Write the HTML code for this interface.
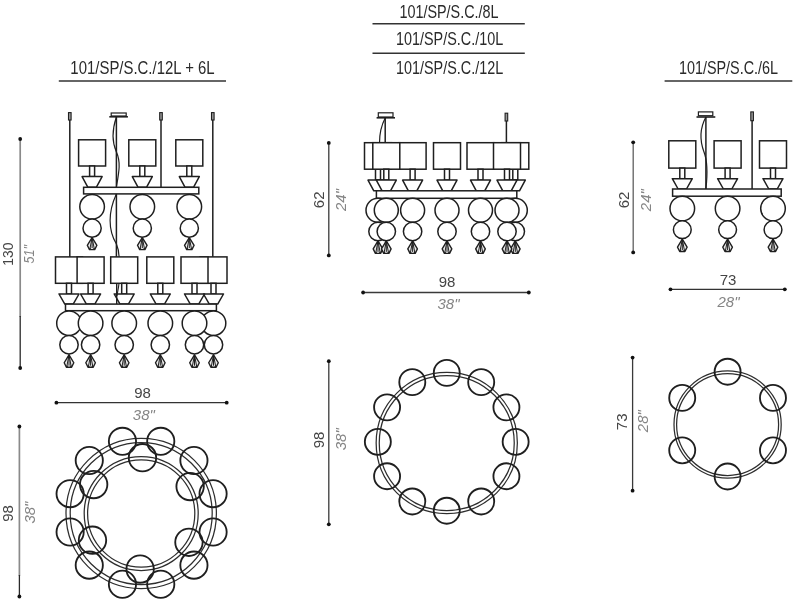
<!DOCTYPE html>
<html><head><meta charset="utf-8"><style>
html,body{margin:0;padding:0;background:#fff;width:795px;height:603px;overflow:hidden}
svg{display:block}
text{font-family:"Liberation Sans",sans-serif}
svg text{filter:grayscale(1)}
</style></head><body>
<svg width="795" height="603" viewBox="0 0 795 603">
<rect width="795" height="603" fill="#fff"/>
<rect x="68.50" y="112.60" width="2.60" height="7.40" fill="#9a9a9a" stroke="#1f1f1f" stroke-width="1.1"/>
<line x1="69.80" y1="120.00" x2="69.80" y2="257.00" stroke="#1f1f1f" stroke-width="1.5"/>
<rect x="159.70" y="112.60" width="2.60" height="7.40" fill="#9a9a9a" stroke="#1f1f1f" stroke-width="1.1"/>
<line x1="161.00" y1="120.00" x2="161.00" y2="187.50" stroke="#1f1f1f" stroke-width="1.5"/>
<rect x="211.50" y="112.60" width="2.60" height="7.40" fill="#9a9a9a" stroke="#1f1f1f" stroke-width="1.1"/>
<line x1="212.80" y1="120.00" x2="212.80" y2="257.00" stroke="#1f1f1f" stroke-width="1.5"/>
<rect x="111.20" y="113.00" width="15.00" height="3.00" fill="#fff" stroke="#1f1f1f" stroke-width="1.2"/>
<line x1="109.30" y1="116.80" x2="127.90" y2="116.80" stroke="#1f1f1f" stroke-width="1.6"/>
<line x1="116.40" y1="117.00" x2="116.40" y2="257.00" stroke="#1f1f1f" stroke-width="1.5"/>
<path d="M116.4,117 C112,130 112,142 116.4,152 C121,162 119,172 116.4,187" fill="none" stroke="#1f1f1f" stroke-width="1.2"/>
<path d="M116.4,194 C108,212 108,230 116.4,244 C118.5,249 119,253 119,257" fill="none" stroke="#1f1f1f" stroke-width="1.2"/>
<rect x="78.60" y="139.80" width="27.00" height="26.20" fill="#fff" stroke="#1f1f1f" stroke-width="1.5"/>
<rect x="89.60" y="166.00" width="5.00" height="10.60" fill="#fff" stroke="#1f1f1f" stroke-width="1.5"/>
<polygon points="82.10,176.60 102.10,176.60 96.30,187.30 87.90,187.30" fill="#fff" stroke="#1f1f1f" stroke-width="1.5" stroke-linejoin="round"/>
<rect x="128.80" y="139.80" width="27.00" height="26.20" fill="#fff" stroke="#1f1f1f" stroke-width="1.5"/>
<rect x="139.80" y="166.00" width="5.00" height="10.60" fill="#fff" stroke="#1f1f1f" stroke-width="1.5"/>
<polygon points="132.30,176.60 152.30,176.60 146.50,187.30 138.10,187.30" fill="#fff" stroke="#1f1f1f" stroke-width="1.5" stroke-linejoin="round"/>
<rect x="175.80" y="139.80" width="27.00" height="26.20" fill="#fff" stroke="#1f1f1f" stroke-width="1.5"/>
<rect x="186.80" y="166.00" width="5.00" height="10.60" fill="#fff" stroke="#1f1f1f" stroke-width="1.5"/>
<polygon points="179.30,176.60 199.30,176.60 193.50,187.30 185.10,187.30" fill="#fff" stroke="#1f1f1f" stroke-width="1.5" stroke-linejoin="round"/>
<rect x="83.60" y="187.30" width="115.20" height="6.60" fill="#fff" stroke="#1f1f1f" stroke-width="1.5"/>
<circle cx="92.10" cy="206.80" r="12.30" fill="#fff" stroke="#1f1f1f" stroke-width="1.5"/>
<circle cx="92.10" cy="228.20" r="9.10" fill="#fff" stroke="#1f1f1f" stroke-width="1.5"/>
<polygon points="92.10,237.60 96.90,245.28 94.70,249.60 89.50,249.60 87.30,245.28" fill="#ececec" stroke="#1f1f1f" stroke-width="1.4" stroke-linejoin="round"/>
<path d="M92.10,237.60 L89.90,249.00 M92.10,237.60 L94.30,249.00 M92.10,237.60 L92.10,248.10" fill="none" stroke="#1f1f1f" stroke-width="1.0"/>
<circle cx="90.10" cy="248.80" r="0.90" fill="#222" stroke="none" stroke-width="0"/>
<circle cx="94.10" cy="248.80" r="0.90" fill="#222" stroke="none" stroke-width="0"/>
<circle cx="142.30" cy="206.80" r="12.30" fill="#fff" stroke="#1f1f1f" stroke-width="1.5"/>
<circle cx="142.30" cy="228.20" r="9.10" fill="#fff" stroke="#1f1f1f" stroke-width="1.5"/>
<polygon points="142.30,237.60 147.10,245.28 144.90,249.60 139.70,249.60 137.50,245.28" fill="#ececec" stroke="#1f1f1f" stroke-width="1.4" stroke-linejoin="round"/>
<path d="M142.30,237.60 L140.10,249.00 M142.30,237.60 L144.50,249.00 M142.30,237.60 L142.30,248.10" fill="none" stroke="#1f1f1f" stroke-width="1.0"/>
<circle cx="140.30" cy="248.80" r="0.90" fill="#222" stroke="none" stroke-width="0"/>
<circle cx="144.30" cy="248.80" r="0.90" fill="#222" stroke="none" stroke-width="0"/>
<circle cx="189.30" cy="206.80" r="12.30" fill="#fff" stroke="#1f1f1f" stroke-width="1.5"/>
<circle cx="189.30" cy="228.20" r="9.10" fill="#fff" stroke="#1f1f1f" stroke-width="1.5"/>
<polygon points="189.30,237.60 194.10,245.28 191.90,249.60 186.70,249.60 184.50,245.28" fill="#ececec" stroke="#1f1f1f" stroke-width="1.4" stroke-linejoin="round"/>
<path d="M189.30,237.60 L187.10,249.00 M189.30,237.60 L191.50,249.00 M189.30,237.60 L189.30,248.10" fill="none" stroke="#1f1f1f" stroke-width="1.0"/>
<circle cx="187.30" cy="248.80" r="0.90" fill="#222" stroke="none" stroke-width="0"/>
<circle cx="191.30" cy="248.80" r="0.90" fill="#222" stroke="none" stroke-width="0"/>
<rect x="55.50" y="256.90" width="27.00" height="26.40" fill="#fff" stroke="#1f1f1f" stroke-width="1.5"/>
<rect x="66.50" y="283.30" width="5.00" height="10.70" fill="#fff" stroke="#1f1f1f" stroke-width="1.5"/>
<polygon points="59.00,294.00 79.00,294.00 73.20,304.10 64.80,304.10" fill="#fff" stroke="#1f1f1f" stroke-width="1.5" stroke-linejoin="round"/>
<rect x="200.00" y="256.90" width="27.00" height="26.40" fill="#fff" stroke="#1f1f1f" stroke-width="1.5"/>
<rect x="211.00" y="283.30" width="5.00" height="10.70" fill="#fff" stroke="#1f1f1f" stroke-width="1.5"/>
<polygon points="203.50,294.00 223.50,294.00 217.70,304.10 209.30,304.10" fill="#fff" stroke="#1f1f1f" stroke-width="1.5" stroke-linejoin="round"/>
<rect x="110.70" y="256.90" width="27.00" height="26.40" fill="#fff" stroke="#1f1f1f" stroke-width="1.5"/>
<rect x="121.70" y="283.30" width="5.00" height="10.70" fill="#fff" stroke="#1f1f1f" stroke-width="1.5"/>
<polygon points="114.20,294.00 134.20,294.00 128.40,304.10 120.00,304.10" fill="#fff" stroke="#1f1f1f" stroke-width="1.5" stroke-linejoin="round"/>
<rect x="146.80" y="256.90" width="27.00" height="26.40" fill="#fff" stroke="#1f1f1f" stroke-width="1.5"/>
<rect x="157.80" y="283.30" width="5.00" height="10.70" fill="#fff" stroke="#1f1f1f" stroke-width="1.5"/>
<polygon points="150.30,294.00 170.30,294.00 164.50,304.10 156.10,304.10" fill="#fff" stroke="#1f1f1f" stroke-width="1.5" stroke-linejoin="round"/>
<rect x="77.10" y="256.90" width="27.00" height="26.40" fill="#fff" stroke="#1f1f1f" stroke-width="1.5"/>
<rect x="88.10" y="283.30" width="5.00" height="10.70" fill="#fff" stroke="#1f1f1f" stroke-width="1.5"/>
<polygon points="80.60,294.00 100.60,294.00 94.80,304.10 86.40,304.10" fill="#fff" stroke="#1f1f1f" stroke-width="1.5" stroke-linejoin="round"/>
<rect x="181.00" y="256.90" width="27.00" height="26.40" fill="#fff" stroke="#1f1f1f" stroke-width="1.5"/>
<rect x="192.00" y="283.30" width="5.00" height="10.70" fill="#fff" stroke="#1f1f1f" stroke-width="1.5"/>
<polygon points="184.50,294.00 204.50,294.00 198.70,304.10 190.30,304.10" fill="#fff" stroke="#1f1f1f" stroke-width="1.5" stroke-linejoin="round"/>
<line x1="116.70" y1="283.30" x2="116.70" y2="304.10" stroke="#1f1f1f" stroke-width="1.4"/>
<path d="M119.0,283.3 C118.6,288 117.6,292 116.9,296" fill="none" stroke="#1f1f1f" stroke-width="1.1"/>
<rect x="65.50" y="304.10" width="150.90" height="6.60" fill="#fff" stroke="#1f1f1f" stroke-width="1.5"/>
<circle cx="69.00" cy="323.20" r="12.30" fill="#fff" stroke="#1f1f1f" stroke-width="1.5"/>
<circle cx="69.00" cy="344.70" r="9.20" fill="#fff" stroke="#1f1f1f" stroke-width="1.5"/>
<polygon points="69.00,354.80 73.80,362.74 71.60,367.20 66.40,367.20 64.20,362.74" fill="#ececec" stroke="#1f1f1f" stroke-width="1.4" stroke-linejoin="round"/>
<path d="M69.00,354.80 L66.80,366.60 M69.00,354.80 L71.20,366.60 M69.00,354.80 L69.00,365.70" fill="none" stroke="#1f1f1f" stroke-width="1.0"/>
<circle cx="67.00" cy="366.40" r="0.90" fill="#222" stroke="none" stroke-width="0"/>
<circle cx="71.00" cy="366.40" r="0.90" fill="#222" stroke="none" stroke-width="0"/>
<circle cx="213.50" cy="323.20" r="12.30" fill="#fff" stroke="#1f1f1f" stroke-width="1.5"/>
<circle cx="213.50" cy="344.70" r="9.20" fill="#fff" stroke="#1f1f1f" stroke-width="1.5"/>
<polygon points="213.50,354.80 218.30,362.74 216.10,367.20 210.90,367.20 208.70,362.74" fill="#ececec" stroke="#1f1f1f" stroke-width="1.4" stroke-linejoin="round"/>
<path d="M213.50,354.80 L211.30,366.60 M213.50,354.80 L215.70,366.60 M213.50,354.80 L213.50,365.70" fill="none" stroke="#1f1f1f" stroke-width="1.0"/>
<circle cx="211.50" cy="366.40" r="0.90" fill="#222" stroke="none" stroke-width="0"/>
<circle cx="215.50" cy="366.40" r="0.90" fill="#222" stroke="none" stroke-width="0"/>
<circle cx="124.20" cy="323.20" r="12.30" fill="#fff" stroke="#1f1f1f" stroke-width="1.5"/>
<circle cx="124.20" cy="344.70" r="9.20" fill="#fff" stroke="#1f1f1f" stroke-width="1.5"/>
<polygon points="124.20,354.80 129.00,362.74 126.80,367.20 121.60,367.20 119.40,362.74" fill="#ececec" stroke="#1f1f1f" stroke-width="1.4" stroke-linejoin="round"/>
<path d="M124.20,354.80 L122.00,366.60 M124.20,354.80 L126.40,366.60 M124.20,354.80 L124.20,365.70" fill="none" stroke="#1f1f1f" stroke-width="1.0"/>
<circle cx="122.20" cy="366.40" r="0.90" fill="#222" stroke="none" stroke-width="0"/>
<circle cx="126.20" cy="366.40" r="0.90" fill="#222" stroke="none" stroke-width="0"/>
<circle cx="160.30" cy="323.20" r="12.30" fill="#fff" stroke="#1f1f1f" stroke-width="1.5"/>
<circle cx="160.30" cy="344.70" r="9.20" fill="#fff" stroke="#1f1f1f" stroke-width="1.5"/>
<polygon points="160.30,354.80 165.10,362.74 162.90,367.20 157.70,367.20 155.50,362.74" fill="#ececec" stroke="#1f1f1f" stroke-width="1.4" stroke-linejoin="round"/>
<path d="M160.30,354.80 L158.10,366.60 M160.30,354.80 L162.50,366.60 M160.30,354.80 L160.30,365.70" fill="none" stroke="#1f1f1f" stroke-width="1.0"/>
<circle cx="158.30" cy="366.40" r="0.90" fill="#222" stroke="none" stroke-width="0"/>
<circle cx="162.30" cy="366.40" r="0.90" fill="#222" stroke="none" stroke-width="0"/>
<circle cx="90.60" cy="323.20" r="12.30" fill="#fff" stroke="#1f1f1f" stroke-width="1.5"/>
<circle cx="90.60" cy="344.70" r="9.20" fill="#fff" stroke="#1f1f1f" stroke-width="1.5"/>
<polygon points="90.60,354.80 95.40,362.74 93.20,367.20 88.00,367.20 85.80,362.74" fill="#ececec" stroke="#1f1f1f" stroke-width="1.4" stroke-linejoin="round"/>
<path d="M90.60,354.80 L88.40,366.60 M90.60,354.80 L92.80,366.60 M90.60,354.80 L90.60,365.70" fill="none" stroke="#1f1f1f" stroke-width="1.0"/>
<circle cx="88.60" cy="366.40" r="0.90" fill="#222" stroke="none" stroke-width="0"/>
<circle cx="92.60" cy="366.40" r="0.90" fill="#222" stroke="none" stroke-width="0"/>
<circle cx="194.50" cy="323.20" r="12.30" fill="#fff" stroke="#1f1f1f" stroke-width="1.5"/>
<circle cx="194.50" cy="344.70" r="9.20" fill="#fff" stroke="#1f1f1f" stroke-width="1.5"/>
<polygon points="194.50,354.80 199.30,362.74 197.10,367.20 191.90,367.20 189.70,362.74" fill="#ececec" stroke="#1f1f1f" stroke-width="1.4" stroke-linejoin="round"/>
<path d="M194.50,354.80 L192.30,366.60 M194.50,354.80 L196.70,366.60 M194.50,354.80 L194.50,365.70" fill="none" stroke="#1f1f1f" stroke-width="1.0"/>
<circle cx="192.50" cy="366.40" r="0.90" fill="#222" stroke="none" stroke-width="0"/>
<circle cx="196.50" cy="366.40" r="0.90" fill="#222" stroke="none" stroke-width="0"/>
<rect x="378.30" y="112.80" width="14.70" height="4.20" fill="#fff" stroke="#1f1f1f" stroke-width="1.2"/>
<line x1="376.60" y1="117.80" x2="395.00" y2="117.80" stroke="#1f1f1f" stroke-width="1.6"/>
<line x1="385.20" y1="118.00" x2="385.20" y2="143.00" stroke="#1f1f1f" stroke-width="1.5"/>
<path d="M385.2,118 C381,126 379.5,134 379.5,143" fill="none" stroke="#1f1f1f" stroke-width="1.2"/>
<rect x="505.10" y="113.20" width="2.60" height="7.80" fill="#9a9a9a" stroke="#1f1f1f" stroke-width="1.1"/>
<line x1="506.40" y1="121.00" x2="506.40" y2="143.00" stroke="#1f1f1f" stroke-width="1.5"/>
<rect x="364.50" y="142.70" width="27.00" height="26.50" fill="#fff" stroke="#1f1f1f" stroke-width="1.5"/>
<rect x="375.50" y="169.20" width="5.00" height="10.90" fill="#fff" stroke="#1f1f1f" stroke-width="1.5"/>
<polygon points="368.00,180.10 388.00,180.10 382.20,190.80 373.80,190.80" fill="#fff" stroke="#1f1f1f" stroke-width="1.5" stroke-linejoin="round"/>
<rect x="501.80" y="142.70" width="27.00" height="26.50" fill="#fff" stroke="#1f1f1f" stroke-width="1.5"/>
<rect x="512.80" y="169.20" width="5.00" height="10.90" fill="#fff" stroke="#1f1f1f" stroke-width="1.5"/>
<polygon points="505.30,180.10 525.30,180.10 519.50,190.80 511.10,190.80" fill="#fff" stroke="#1f1f1f" stroke-width="1.5" stroke-linejoin="round"/>
<rect x="399.10" y="142.70" width="27.00" height="26.50" fill="#fff" stroke="#1f1f1f" stroke-width="1.5"/>
<rect x="410.10" y="169.20" width="5.00" height="10.90" fill="#fff" stroke="#1f1f1f" stroke-width="1.5"/>
<polygon points="402.60,180.10 422.60,180.10 416.80,190.80 408.40,190.80" fill="#fff" stroke="#1f1f1f" stroke-width="1.5" stroke-linejoin="round"/>
<rect x="433.50" y="142.70" width="27.00" height="26.50" fill="#fff" stroke="#1f1f1f" stroke-width="1.5"/>
<rect x="444.50" y="169.20" width="5.00" height="10.90" fill="#fff" stroke="#1f1f1f" stroke-width="1.5"/>
<polygon points="437.00,180.10 457.00,180.10 451.20,190.80 442.80,190.80" fill="#fff" stroke="#1f1f1f" stroke-width="1.5" stroke-linejoin="round"/>
<rect x="467.00" y="142.70" width="27.00" height="26.50" fill="#fff" stroke="#1f1f1f" stroke-width="1.5"/>
<rect x="478.00" y="169.20" width="5.00" height="10.90" fill="#fff" stroke="#1f1f1f" stroke-width="1.5"/>
<polygon points="470.50,180.10 490.50,180.10 484.70,190.80 476.30,190.80" fill="#fff" stroke="#1f1f1f" stroke-width="1.5" stroke-linejoin="round"/>
<rect x="372.80" y="142.70" width="27.00" height="26.50" fill="#fff" stroke="#1f1f1f" stroke-width="1.5"/>
<rect x="383.80" y="169.20" width="5.00" height="10.90" fill="#fff" stroke="#1f1f1f" stroke-width="1.5"/>
<polygon points="376.30,180.10 396.30,180.10 390.50,190.80 382.10,190.80" fill="#fff" stroke="#1f1f1f" stroke-width="1.5" stroke-linejoin="round"/>
<rect x="493.50" y="142.70" width="27.00" height="26.50" fill="#fff" stroke="#1f1f1f" stroke-width="1.5"/>
<rect x="504.50" y="169.20" width="5.00" height="10.90" fill="#fff" stroke="#1f1f1f" stroke-width="1.5"/>
<polygon points="497.00,180.10 517.00,180.10 511.20,190.80 502.80,190.80" fill="#fff" stroke="#1f1f1f" stroke-width="1.5" stroke-linejoin="round"/>
<rect x="376.40" y="190.80" width="140.40" height="7.50" fill="#fff" stroke="#1f1f1f" stroke-width="1.5"/>
<circle cx="378.00" cy="210.30" r="12.00" fill="#fff" stroke="#1f1f1f" stroke-width="1.5"/>
<circle cx="378.00" cy="231.50" r="9.20" fill="#fff" stroke="#1f1f1f" stroke-width="1.5"/>
<polygon points="378.00,240.80 382.80,248.86 380.60,253.40 375.40,253.40 373.20,248.86" fill="#ececec" stroke="#1f1f1f" stroke-width="1.4" stroke-linejoin="round"/>
<path d="M378.00,240.80 L375.80,252.80 M378.00,240.80 L380.20,252.80 M378.00,240.80 L378.00,251.90" fill="none" stroke="#1f1f1f" stroke-width="1.0"/>
<circle cx="376.00" cy="252.60" r="0.90" fill="#222" stroke="none" stroke-width="0"/>
<circle cx="380.00" cy="252.60" r="0.90" fill="#222" stroke="none" stroke-width="0"/>
<circle cx="515.30" cy="210.30" r="12.00" fill="#fff" stroke="#1f1f1f" stroke-width="1.5"/>
<circle cx="515.30" cy="231.50" r="9.20" fill="#fff" stroke="#1f1f1f" stroke-width="1.5"/>
<polygon points="515.30,240.80 520.10,248.86 517.90,253.40 512.70,253.40 510.50,248.86" fill="#ececec" stroke="#1f1f1f" stroke-width="1.4" stroke-linejoin="round"/>
<path d="M515.30,240.80 L513.10,252.80 M515.30,240.80 L517.50,252.80 M515.30,240.80 L515.30,251.90" fill="none" stroke="#1f1f1f" stroke-width="1.0"/>
<circle cx="513.30" cy="252.60" r="0.90" fill="#222" stroke="none" stroke-width="0"/>
<circle cx="517.30" cy="252.60" r="0.90" fill="#222" stroke="none" stroke-width="0"/>
<circle cx="412.60" cy="210.30" r="12.00" fill="#fff" stroke="#1f1f1f" stroke-width="1.5"/>
<circle cx="412.60" cy="231.50" r="9.20" fill="#fff" stroke="#1f1f1f" stroke-width="1.5"/>
<polygon points="412.60,240.80 417.40,248.86 415.20,253.40 410.00,253.40 407.80,248.86" fill="#ececec" stroke="#1f1f1f" stroke-width="1.4" stroke-linejoin="round"/>
<path d="M412.60,240.80 L410.40,252.80 M412.60,240.80 L414.80,252.80 M412.60,240.80 L412.60,251.90" fill="none" stroke="#1f1f1f" stroke-width="1.0"/>
<circle cx="410.60" cy="252.60" r="0.90" fill="#222" stroke="none" stroke-width="0"/>
<circle cx="414.60" cy="252.60" r="0.90" fill="#222" stroke="none" stroke-width="0"/>
<circle cx="447.00" cy="210.30" r="12.00" fill="#fff" stroke="#1f1f1f" stroke-width="1.5"/>
<circle cx="447.00" cy="231.50" r="9.20" fill="#fff" stroke="#1f1f1f" stroke-width="1.5"/>
<polygon points="447.00,240.80 451.80,248.86 449.60,253.40 444.40,253.40 442.20,248.86" fill="#ececec" stroke="#1f1f1f" stroke-width="1.4" stroke-linejoin="round"/>
<path d="M447.00,240.80 L444.80,252.80 M447.00,240.80 L449.20,252.80 M447.00,240.80 L447.00,251.90" fill="none" stroke="#1f1f1f" stroke-width="1.0"/>
<circle cx="445.00" cy="252.60" r="0.90" fill="#222" stroke="none" stroke-width="0"/>
<circle cx="449.00" cy="252.60" r="0.90" fill="#222" stroke="none" stroke-width="0"/>
<circle cx="480.50" cy="210.30" r="12.00" fill="#fff" stroke="#1f1f1f" stroke-width="1.5"/>
<circle cx="480.50" cy="231.50" r="9.20" fill="#fff" stroke="#1f1f1f" stroke-width="1.5"/>
<polygon points="480.50,240.80 485.30,248.86 483.10,253.40 477.90,253.40 475.70,248.86" fill="#ececec" stroke="#1f1f1f" stroke-width="1.4" stroke-linejoin="round"/>
<path d="M480.50,240.80 L478.30,252.80 M480.50,240.80 L482.70,252.80 M480.50,240.80 L480.50,251.90" fill="none" stroke="#1f1f1f" stroke-width="1.0"/>
<circle cx="478.50" cy="252.60" r="0.90" fill="#222" stroke="none" stroke-width="0"/>
<circle cx="482.50" cy="252.60" r="0.90" fill="#222" stroke="none" stroke-width="0"/>
<circle cx="386.30" cy="210.30" r="12.00" fill="#fff" stroke="#1f1f1f" stroke-width="1.5"/>
<circle cx="386.30" cy="231.50" r="9.20" fill="#fff" stroke="#1f1f1f" stroke-width="1.5"/>
<polygon points="386.30,240.80 391.10,248.86 388.90,253.40 383.70,253.40 381.50,248.86" fill="#ececec" stroke="#1f1f1f" stroke-width="1.4" stroke-linejoin="round"/>
<path d="M386.30,240.80 L384.10,252.80 M386.30,240.80 L388.50,252.80 M386.30,240.80 L386.30,251.90" fill="none" stroke="#1f1f1f" stroke-width="1.0"/>
<circle cx="384.30" cy="252.60" r="0.90" fill="#222" stroke="none" stroke-width="0"/>
<circle cx="388.30" cy="252.60" r="0.90" fill="#222" stroke="none" stroke-width="0"/>
<circle cx="507.00" cy="210.30" r="12.00" fill="#fff" stroke="#1f1f1f" stroke-width="1.5"/>
<circle cx="507.00" cy="231.50" r="9.20" fill="#fff" stroke="#1f1f1f" stroke-width="1.5"/>
<polygon points="507.00,240.80 511.80,248.86 509.60,253.40 504.40,253.40 502.20,248.86" fill="#ececec" stroke="#1f1f1f" stroke-width="1.4" stroke-linejoin="round"/>
<path d="M507.00,240.80 L504.80,252.80 M507.00,240.80 L509.20,252.80 M507.00,240.80 L507.00,251.90" fill="none" stroke="#1f1f1f" stroke-width="1.0"/>
<circle cx="505.00" cy="252.60" r="0.90" fill="#222" stroke="none" stroke-width="0"/>
<circle cx="509.00" cy="252.60" r="0.90" fill="#222" stroke="none" stroke-width="0"/>
<rect x="698.40" y="111.90" width="14.40" height="3.80" fill="#fff" stroke="#1f1f1f" stroke-width="1.2"/>
<line x1="696.50" y1="117.00" x2="715.30" y2="117.00" stroke="#1f1f1f" stroke-width="1.6"/>
<line x1="705.90" y1="117.00" x2="705.90" y2="189.00" stroke="#1f1f1f" stroke-width="1.5"/>
<path d="M705.9,117 C700,128 699.5,140 704,152 C707.5,161 707.5,175 705.9,189" fill="none" stroke="#1f1f1f" stroke-width="1.2"/>
<rect x="750.80" y="111.90" width="2.60" height="8.80" fill="#9a9a9a" stroke="#1f1f1f" stroke-width="1.1"/>
<line x1="752.10" y1="120.70" x2="752.10" y2="189.00" stroke="#1f1f1f" stroke-width="1.5"/>
<rect x="668.80" y="140.80" width="27.00" height="27.30" fill="#fff" stroke="#1f1f1f" stroke-width="1.5"/>
<rect x="679.80" y="168.10" width="5.00" height="10.60" fill="#fff" stroke="#1f1f1f" stroke-width="1.5"/>
<polygon points="672.30,178.70 692.30,178.70 686.50,189.00 678.10,189.00" fill="#fff" stroke="#1f1f1f" stroke-width="1.5" stroke-linejoin="round"/>
<rect x="714.10" y="140.80" width="27.00" height="27.30" fill="#fff" stroke="#1f1f1f" stroke-width="1.5"/>
<rect x="725.10" y="168.10" width="5.00" height="10.60" fill="#fff" stroke="#1f1f1f" stroke-width="1.5"/>
<polygon points="717.60,178.70 737.60,178.70 731.80,189.00 723.40,189.00" fill="#fff" stroke="#1f1f1f" stroke-width="1.5" stroke-linejoin="round"/>
<rect x="759.50" y="140.80" width="27.00" height="27.30" fill="#fff" stroke="#1f1f1f" stroke-width="1.5"/>
<rect x="770.50" y="168.10" width="5.00" height="10.60" fill="#fff" stroke="#1f1f1f" stroke-width="1.5"/>
<polygon points="763.00,178.70 783.00,178.70 777.20,189.00 768.80,189.00" fill="#fff" stroke="#1f1f1f" stroke-width="1.5" stroke-linejoin="round"/>
<rect x="672.60" y="189.00" width="108.60" height="7.20" fill="#fff" stroke="#1f1f1f" stroke-width="1.5"/>
<circle cx="682.30" cy="208.50" r="12.30" fill="#fff" stroke="#1f1f1f" stroke-width="1.5"/>
<circle cx="682.30" cy="229.70" r="8.90" fill="#fff" stroke="#1f1f1f" stroke-width="1.5"/>
<polygon points="682.30,239.20 687.10,247.07 684.90,251.50 679.70,251.50 677.50,247.07" fill="#ececec" stroke="#1f1f1f" stroke-width="1.4" stroke-linejoin="round"/>
<path d="M682.30,239.20 L680.10,250.90 M682.30,239.20 L684.50,250.90 M682.30,239.20 L682.30,250.00" fill="none" stroke="#1f1f1f" stroke-width="1.0"/>
<circle cx="680.30" cy="250.70" r="0.90" fill="#222" stroke="none" stroke-width="0"/>
<circle cx="684.30" cy="250.70" r="0.90" fill="#222" stroke="none" stroke-width="0"/>
<circle cx="727.60" cy="208.50" r="12.30" fill="#fff" stroke="#1f1f1f" stroke-width="1.5"/>
<circle cx="727.60" cy="229.70" r="8.90" fill="#fff" stroke="#1f1f1f" stroke-width="1.5"/>
<polygon points="727.60,239.20 732.40,247.07 730.20,251.50 725.00,251.50 722.80,247.07" fill="#ececec" stroke="#1f1f1f" stroke-width="1.4" stroke-linejoin="round"/>
<path d="M727.60,239.20 L725.40,250.90 M727.60,239.20 L729.80,250.90 M727.60,239.20 L727.60,250.00" fill="none" stroke="#1f1f1f" stroke-width="1.0"/>
<circle cx="725.60" cy="250.70" r="0.90" fill="#222" stroke="none" stroke-width="0"/>
<circle cx="729.60" cy="250.70" r="0.90" fill="#222" stroke="none" stroke-width="0"/>
<circle cx="773.00" cy="208.50" r="12.30" fill="#fff" stroke="#1f1f1f" stroke-width="1.5"/>
<circle cx="773.00" cy="229.70" r="8.90" fill="#fff" stroke="#1f1f1f" stroke-width="1.5"/>
<polygon points="773.00,239.20 777.80,247.07 775.60,251.50 770.40,251.50 768.20,247.07" fill="#ececec" stroke="#1f1f1f" stroke-width="1.4" stroke-linejoin="round"/>
<path d="M773.00,239.20 L770.80,250.90 M773.00,239.20 L775.20,250.90 M773.00,239.20 L773.00,250.00" fill="none" stroke="#1f1f1f" stroke-width="1.0"/>
<circle cx="771.00" cy="250.70" r="0.90" fill="#222" stroke="none" stroke-width="0"/>
<circle cx="775.00" cy="250.70" r="0.90" fill="#222" stroke="none" stroke-width="0"/>
<circle cx="141.20" cy="513.50" r="75.20" fill="none" stroke="#2e2e2e" stroke-width="1.25"/>
<circle cx="141.20" cy="513.50" r="71.00" fill="none" stroke="#2e2e2e" stroke-width="1.25"/>
<circle cx="141.20" cy="513.50" r="57.00" fill="none" stroke="#2e2e2e" stroke-width="1.25"/>
<circle cx="141.20" cy="513.50" r="53.60" fill="none" stroke="#2e2e2e" stroke-width="1.25"/>
<circle cx="160.75" cy="441.32" r="13.60" fill="none" stroke="#1f1f1f" stroke-width="1.85"/>
<circle cx="193.93" cy="460.47" r="13.60" fill="none" stroke="#1f1f1f" stroke-width="1.85"/>
<circle cx="213.08" cy="493.65" r="13.60" fill="none" stroke="#1f1f1f" stroke-width="1.85"/>
<circle cx="213.08" cy="531.95" r="13.60" fill="none" stroke="#1f1f1f" stroke-width="1.85"/>
<circle cx="193.93" cy="565.13" r="13.60" fill="none" stroke="#1f1f1f" stroke-width="1.85"/>
<circle cx="160.75" cy="584.28" r="13.60" fill="none" stroke="#1f1f1f" stroke-width="1.85"/>
<circle cx="122.45" cy="584.28" r="13.60" fill="none" stroke="#1f1f1f" stroke-width="1.85"/>
<circle cx="89.27" cy="565.13" r="13.60" fill="none" stroke="#1f1f1f" stroke-width="1.85"/>
<circle cx="70.12" cy="531.95" r="13.60" fill="none" stroke="#1f1f1f" stroke-width="1.85"/>
<circle cx="70.12" cy="493.65" r="13.60" fill="none" stroke="#1f1f1f" stroke-width="1.85"/>
<circle cx="89.27" cy="460.47" r="13.60" fill="none" stroke="#1f1f1f" stroke-width="1.85"/>
<circle cx="122.45" cy="441.32" r="13.60" fill="none" stroke="#1f1f1f" stroke-width="1.85"/>
<circle cx="142.47" cy="457.71" r="13.70" fill="none" stroke="#1f1f1f" stroke-width="1.85"/>
<circle cx="190.11" cy="486.57" r="13.70" fill="none" stroke="#1f1f1f" stroke-width="1.85"/>
<circle cx="188.94" cy="542.25" r="13.70" fill="none" stroke="#1f1f1f" stroke-width="1.85"/>
<circle cx="140.13" cy="569.09" r="13.70" fill="none" stroke="#1f1f1f" stroke-width="1.85"/>
<circle cx="92.49" cy="540.23" r="13.70" fill="none" stroke="#1f1f1f" stroke-width="1.85"/>
<circle cx="93.66" cy="484.55" r="13.70" fill="none" stroke="#1f1f1f" stroke-width="1.85"/>
<circle cx="446.75" cy="443.00" r="70.60" fill="none" stroke="#2e2e2e" stroke-width="1.25"/>
<circle cx="446.75" cy="443.00" r="67.50" fill="none" stroke="#2e2e2e" stroke-width="1.25"/>
<circle cx="446.75" cy="372.90" r="13.00" fill="none" stroke="#1f1f1f" stroke-width="1.85"/>
<circle cx="481.20" cy="382.13" r="13.00" fill="none" stroke="#1f1f1f" stroke-width="1.85"/>
<circle cx="506.42" cy="407.35" r="13.00" fill="none" stroke="#1f1f1f" stroke-width="1.85"/>
<circle cx="515.65" cy="441.80" r="13.00" fill="none" stroke="#1f1f1f" stroke-width="1.85"/>
<circle cx="506.42" cy="476.25" r="13.00" fill="none" stroke="#1f1f1f" stroke-width="1.85"/>
<circle cx="481.20" cy="501.47" r="13.00" fill="none" stroke="#1f1f1f" stroke-width="1.85"/>
<circle cx="446.75" cy="510.70" r="13.00" fill="none" stroke="#1f1f1f" stroke-width="1.85"/>
<circle cx="412.30" cy="501.47" r="13.00" fill="none" stroke="#1f1f1f" stroke-width="1.85"/>
<circle cx="387.08" cy="476.25" r="13.00" fill="none" stroke="#1f1f1f" stroke-width="1.85"/>
<circle cx="377.85" cy="441.80" r="13.00" fill="none" stroke="#1f1f1f" stroke-width="1.85"/>
<circle cx="387.08" cy="407.35" r="13.00" fill="none" stroke="#1f1f1f" stroke-width="1.85"/>
<circle cx="412.30" cy="382.13" r="13.00" fill="none" stroke="#1f1f1f" stroke-width="1.85"/>
<circle cx="727.60" cy="424.50" r="53.60" fill="none" stroke="#2e2e2e" stroke-width="1.25"/>
<circle cx="727.60" cy="424.50" r="51.00" fill="none" stroke="#2e2e2e" stroke-width="1.25"/>
<circle cx="727.60" cy="371.70" r="13.00" fill="none" stroke="#1f1f1f" stroke-width="1.85"/>
<circle cx="772.98" cy="397.90" r="13.00" fill="none" stroke="#1f1f1f" stroke-width="1.85"/>
<circle cx="772.98" cy="450.30" r="13.00" fill="none" stroke="#1f1f1f" stroke-width="1.85"/>
<circle cx="727.60" cy="476.50" r="13.00" fill="none" stroke="#1f1f1f" stroke-width="1.85"/>
<circle cx="682.22" cy="450.30" r="13.00" fill="none" stroke="#1f1f1f" stroke-width="1.85"/>
<circle cx="682.22" cy="397.90" r="13.00" fill="none" stroke="#1f1f1f" stroke-width="1.85"/>
<line x1="20.20" y1="139.00" x2="20.20" y2="317.00" stroke="#8a8a8a" stroke-width="1.7"/>
<line x1="20.20" y1="316.00" x2="20.20" y2="368.00" stroke="#2a2a2a" stroke-width="1.3"/>
<circle cx="20.20" cy="139.00" r="1.90" fill="#111" stroke="none" stroke-width="0"/>
<circle cx="20.20" cy="368.00" r="1.90" fill="#111" stroke="none" stroke-width="0"/>
<line x1="19.40" y1="426.50" x2="19.40" y2="576.00" stroke="#8a8a8a" stroke-width="1.7"/>
<line x1="19.40" y1="575.00" x2="19.40" y2="596.50" stroke="#2a2a2a" stroke-width="1.3"/>
<circle cx="19.40" cy="426.50" r="1.90" fill="#111" stroke="none" stroke-width="0"/>
<circle cx="19.40" cy="596.50" r="1.90" fill="#111" stroke="none" stroke-width="0"/>
<line x1="56.40" y1="402.70" x2="226.70" y2="402.70" stroke="#333" stroke-width="1.3"/>
<circle cx="56.40" cy="402.70" r="1.90" fill="#111" stroke="none" stroke-width="0"/>
<circle cx="226.70" cy="402.70" r="1.90" fill="#111" stroke="none" stroke-width="0"/>
<line x1="328.80" y1="142.90" x2="328.80" y2="255.40" stroke="#3a3a3a" stroke-width="1.3"/>
<circle cx="328.80" cy="142.90" r="1.90" fill="#111" stroke="none" stroke-width="0"/>
<circle cx="328.80" cy="255.40" r="1.90" fill="#111" stroke="none" stroke-width="0"/>
<line x1="363.10" y1="292.50" x2="528.80" y2="292.50" stroke="#3a3a3a" stroke-width="1.3"/>
<circle cx="363.10" cy="292.50" r="1.90" fill="#111" stroke="none" stroke-width="0"/>
<circle cx="528.80" cy="292.50" r="1.90" fill="#111" stroke="none" stroke-width="0"/>
<line x1="328.80" y1="361.20" x2="328.80" y2="524.30" stroke="#3a3a3a" stroke-width="1.3"/>
<circle cx="328.80" cy="361.20" r="1.90" fill="#111" stroke="none" stroke-width="0"/>
<circle cx="328.80" cy="524.30" r="1.90" fill="#111" stroke="none" stroke-width="0"/>
<line x1="633.20" y1="142.30" x2="633.20" y2="252.40" stroke="#606060" stroke-width="1.3"/>
<circle cx="633.20" cy="142.30" r="1.90" fill="#111" stroke="none" stroke-width="0"/>
<circle cx="633.20" cy="252.40" r="1.90" fill="#111" stroke="none" stroke-width="0"/>
<line x1="670.50" y1="289.30" x2="784.80" y2="289.30" stroke="#333" stroke-width="1.3"/>
<circle cx="670.50" cy="289.30" r="1.90" fill="#111" stroke="none" stroke-width="0"/>
<circle cx="784.80" cy="289.30" r="1.90" fill="#111" stroke="none" stroke-width="0"/>
<line x1="632.60" y1="357.60" x2="632.60" y2="490.70" stroke="#3a3a3a" stroke-width="1.3"/>
<circle cx="632.60" cy="357.60" r="1.90" fill="#111" stroke="none" stroke-width="0"/>
<circle cx="632.60" cy="490.70" r="1.90" fill="#111" stroke="none" stroke-width="0"/>
<line x1="58.80" y1="81.00" x2="226.00" y2="81.00" stroke="#333" stroke-width="1.5"/>
<line x1="372.50" y1="23.80" x2="524.80" y2="23.80" stroke="#333" stroke-width="1.5"/>
<line x1="372.50" y1="53.20" x2="524.80" y2="53.20" stroke="#333" stroke-width="1.5"/>
<line x1="664.60" y1="81.00" x2="792.30" y2="81.00" stroke="#333" stroke-width="1.5"/>
<text x="0" y="0" transform="translate(142.50,73.90) scale(0.83,1)" text-anchor="middle" font-size="18" fill="#2a2a2a">101/SP/S.C./12L + 6L</text>
<text x="0" y="0" transform="translate(449.00,17.70) scale(0.8,1)" text-anchor="middle" font-size="18" fill="#2a2a2a">101/SP/S.C./8L</text>
<text x="0" y="0" transform="translate(449.60,45.30) scale(0.8,1)" text-anchor="middle" font-size="18" fill="#2a2a2a">101/SP/S.C./10L</text>
<text x="0" y="0" transform="translate(449.60,73.60) scale(0.8,1)" text-anchor="middle" font-size="18" fill="#2a2a2a">101/SP/S.C./12L</text>
<text x="0" y="0" transform="translate(728.50,73.70) scale(0.8,1)" text-anchor="middle" font-size="18" fill="#2a2a2a">101/SP/S.C./6L</text>
<text x="0" y="0" transform="translate(13.40,254.20) rotate(-90) scale(0.93,1)" text-anchor="middle" font-size="15" fill="#454545">130</text>
<text x="0" y="0" transform="translate(34.40,254.30) rotate(-90) scale(0.84,1)" text-anchor="middle" font-size="15" font-style="italic" fill="#858585">51&quot;</text>
<text x="0" y="0" transform="translate(13.30,513.50) rotate(-90)" text-anchor="middle" font-size="15" fill="#454545">98</text>
<text x="0" y="0" transform="translate(34.60,512.60) rotate(-90)" text-anchor="middle" font-size="15" font-style="italic" fill="#858585">38&quot;</text>
<text x="0" y="0" transform="translate(323.60,199.80) rotate(-90)" text-anchor="middle" font-size="15" fill="#454545">62</text>
<text x="0" y="0" transform="translate(346.20,200.00) rotate(-90)" text-anchor="middle" font-size="15" font-style="italic" fill="#858585">24&quot;</text>
<text x="0" y="0" transform="translate(323.50,440.00) rotate(-90)" text-anchor="middle" font-size="15" fill="#454545">98</text>
<text x="0" y="0" transform="translate(346.20,439.30) rotate(-90)" text-anchor="middle" font-size="15" font-style="italic" fill="#858585">38&quot;</text>
<text x="0" y="0" transform="translate(628.80,200.00) rotate(-90)" text-anchor="middle" font-size="15" fill="#454545">62</text>
<text x="0" y="0" transform="translate(650.50,200.20) rotate(-90)" text-anchor="middle" font-size="15" font-style="italic" fill="#858585">24&quot;</text>
<text x="0" y="0" transform="translate(627.00,421.80) rotate(-90)" text-anchor="middle" font-size="15" fill="#454545">73</text>
<text x="0" y="0" transform="translate(648.40,421.20) rotate(-90)" text-anchor="middle" font-size="15" font-style="italic" fill="#858585">28&quot;</text>
<text x="0" y="0" transform="translate(142.60,398.10)" text-anchor="middle" font-size="15" fill="#454545">98</text>
<text x="0" y="0" transform="translate(143.80,419.80)" text-anchor="middle" font-size="15" font-style="italic" fill="#858585">38&quot;</text>
<text x="0" y="0" transform="translate(447.00,286.50)" text-anchor="middle" font-size="15" fill="#454545">98</text>
<text x="0" y="0" transform="translate(448.50,308.70)" text-anchor="middle" font-size="15" font-style="italic" fill="#858585">38&quot;</text>
<text x="0" y="0" transform="translate(728.00,284.50)" text-anchor="middle" font-size="15" fill="#454545">73</text>
<text x="0" y="0" transform="translate(728.50,306.60)" text-anchor="middle" font-size="15" font-style="italic" fill="#858585">28&quot;</text>
</svg>
</body></html>
